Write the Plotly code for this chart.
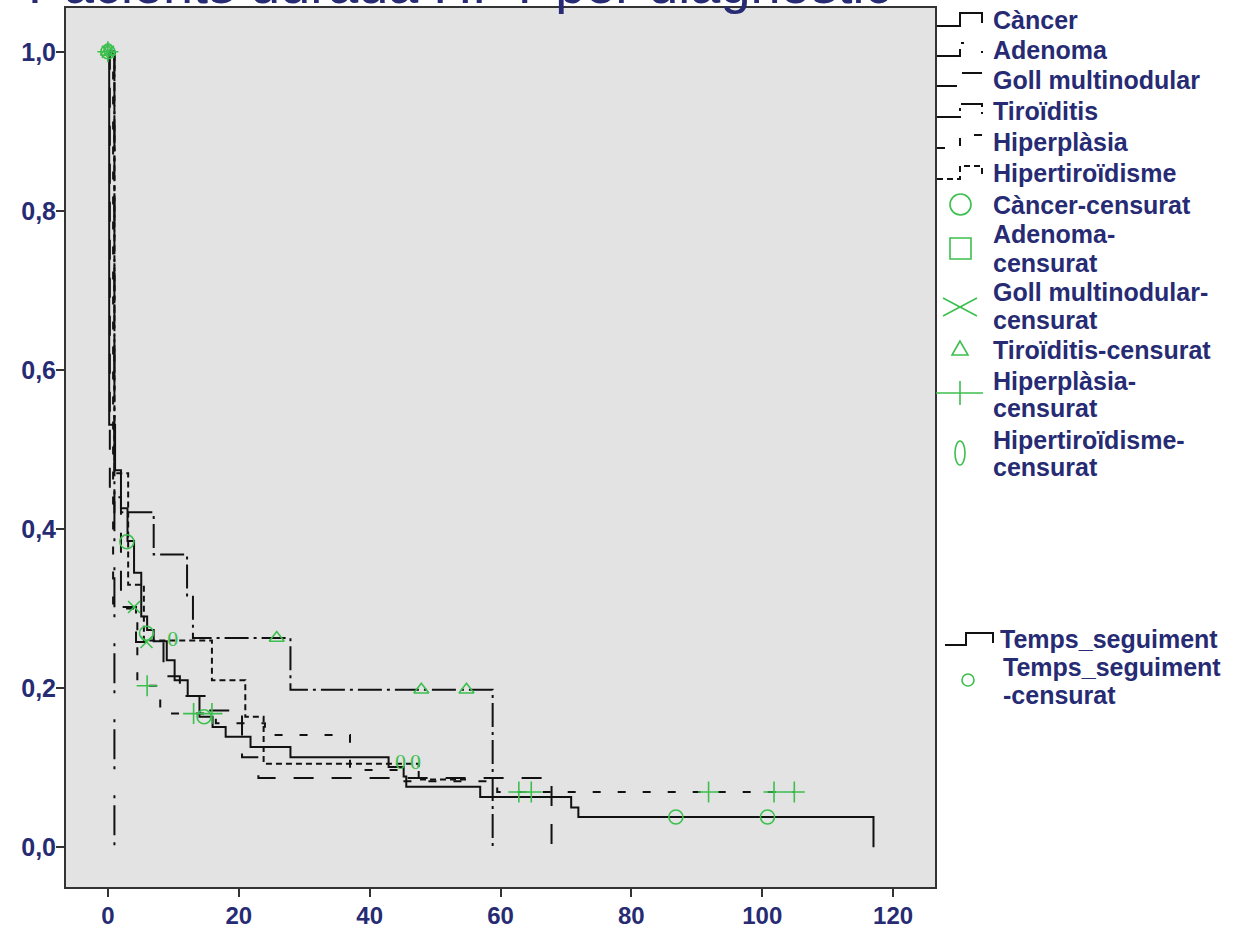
import plotly.graph_objects as go

# ---------------- data: Kaplan-Meier step points (time, cumulative survival) ----------------
groups = ["Càncer", "Adenoma", "Goll multinodular", "Tiroïditis", "Hiperplàsia", "Hipertiroïdisme"]

cancer_t = [0, 0.2, 1.1, 2.0, 3.0, 4.0, 5.1, 6.0, 7.0, 9.0, 10.2, 12.2, 14.0, 16.0, 18.0, 21.8, 27.9,
            42.9, 45.2, 45.6, 56.9, 70.8, 71.9, 117]
cancer_s = [1.0, 0.531, 0.474, 0.426, 0.385, 0.345, 0.29, 0.273, 0.259, 0.235, 0.21, 0.19, 0.164, 0.151,
            0.139, 0.126, 0.113, 0.101, 0.089, 0.076, 0.063, 0.050, 0.038, 0.0]

adenoma_t = [0, 1.0]
adenoma_s = [1.0, 0.0]

goll_t = [0, 0.3, 2.0, 4.3, 8.5, 11.0, 15.0, 20.5, 23.0, 67.8]
goll_s = [1.0, 0.44, 0.302, 0.258, 0.215, 0.19, 0.172, 0.113, 0.087, 0.0]

tiro_t = [0, 1.0, 7.0, 12.1, 13.0, 27.9, 58.8]
tiro_s = [1.0, 0.421, 0.368, 0.315, 0.263, 0.198, 0.0]

hiperpl_t = [0, 0.8, 4.5, 8.0, 16.5, 24.0, 37.0, 45.0, 59.5, 105.0]
hiperpl_s = [1.0, 0.30, 0.203, 0.168, 0.156, 0.141, 0.097, 0.083, 0.0695, 0.0695]

hipert_t = [0, 1.0, 3.1, 5.5, 15.9, 21.0, 23.8, 47.5, 55.0]
hipert_s = [1.0, 0.47, 0.33, 0.26, 0.21, 0.164, 0.105, 0.085, 0.085]

# censored observations per group
cens_cancer_t = [0, 2.9, 5.9, 14.7, 86.8, 100.8]
cens_cancer_s = [1.0, 0.384, 0.269, 0.164, 0.038, 0.038]
cens_goll_t = [0, 4.0, 5.9]
cens_goll_s = [1.0, 0.302, 0.258]
cens_tiro_t = [0, 25.8, 47.9, 54.8]
cens_tiro_s = [1.0, 0.263, 0.198, 0.198]
cens_hiperpl_t = [0, 6.0, 13.1, 15.9, 62.8, 64.7, 91.8, 101.8, 104.9]
cens_hiperpl_s = [1.0, 0.203, 0.168, 0.168, 0.0695, 0.0695, 0.0695, 0.0695, 0.0695]
cens_hipert_t = [0, 9.9, 44.7, 47.0]
cens_hipert_s = [1.0, 0.26, 0.105, 0.105]

x_ticks = [0, 20, 40, 60, 80, 100, 120]
y_ticks = [0.0, 0.2, 0.4, 0.6, 0.8, 1.0]

# ---------------- styling ----------------
NAVY = "#262b73"
GREEN = "#3cbf4e"
BG = "#e3e3e3"
FONT = "Liberation Sans"

dash = {
    "Càncer": "solid",
    "Adenoma": "30px,7px,3px,26px,3px,7px",
    "Goll multinodular": "20px,18px",
    "Tiroïditis": "24px,5px,3px,5px",
    "Hiperplàsia": "8px,17px",
    "Hipertiroïdisme": "6px,4px",
}

curves = {
    "Càncer": (cancer_t, cancer_s),
    "Adenoma": (adenoma_t, adenoma_s),
    "Goll multinodular": (goll_t, goll_s),
    "Tiroïditis": (tiro_t, tiro_s),
    "Hiperplàsia": (hiperpl_t, hiperpl_s),
    "Hipertiroïdisme": (hipert_t, hipert_s),
}

fig = go.Figure()

for g in groups:
    t, s = curves[g]
    fig.add_trace(go.Scatter(
        x=t, y=s, mode="lines", line_shape="hv",
        line=dict(color="#111111", width=2, dash=dash[g]),
        name=g, showlegend=False, hoverinfo="skip"))


def cens_marker(symbol, size):
    return dict(symbol=symbol, size=size, color=GREEN, line=dict(color=GREEN, width=1.6))


fig.add_trace(go.Scatter(x=cens_cancer_t, y=cens_cancer_s, mode="markers",
                         marker=cens_marker("circle-open", 14), showlegend=False))
fig.add_trace(go.Scatter(x=cens_goll_t, y=cens_goll_s, mode="markers",
                         marker=cens_marker("x-thin-open", 12), showlegend=False))
fig.add_trace(go.Scatter(x=cens_tiro_t, y=cens_tiro_s, mode="markers",
                         marker=cens_marker("triangle-up-open", 13), showlegend=False))
fig.add_trace(go.Scatter(x=cens_hiperpl_t, y=cens_hiperpl_s, mode="markers",
                         marker=cens_marker("cross-thin-open", 15), showlegend=False))
fig.add_trace(go.Scatter(x=cens_hipert_t, y=cens_hipert_s, mode="text", text=["0"] * len(cens_hipert_t),
                         textfont=dict(family="Liberation Sans Narrow", size=22, color=GREEN),
                         textposition="middle center", showlegend=False))

# ---------------- layout ----------------
W, H = 1234, 930
L, R, T, B = 66, 935, 8, 887


def px(x):
    return (x - L) / (R - L)


def py(y):
    return (B - y) / (B - T)


shapes = []
annotations = []

# title and legend heading (partly above the page edge)
annotations.append(dict(text="Pacients durada HPT per diagnòstic", x=px(460), y=py(16), xref="paper", yref="paper",
                        xanchor="center", yanchor="bottom", showarrow=False,
                        font=dict(family=FONT, size=54, color=NAVY)))
annotations.append(dict(text="Diagnòstic", x=px(968), y=py(2), xref="paper", yref="paper",
                        xanchor="left", yanchor="bottom", showarrow=False,
                        font=dict(family=FONT, size=22, color="#111111", weight="bold")))

legend_font = dict(family=FONT, size=25, color=NAVY, weight="bold")


def label(lines, x, ys):
    for txt, yy in zip(lines, ys):
        annotations.append(dict(text=txt, x=px(x), y=py(yy), xref="paper", yref="paper",
                                xanchor="left", yanchor="middle", showarrow=False, font=legend_font))


def step_glyph(yc, dsh):
    pts = [(937, yc + 6), (960, yc + 6), (960, yc - 7), (982, yc - 7), (982, yc + 3)]
    path = "M " + " L ".join(f"{px(a)},{py(b)}" for a, b in pts)
    shapes.append(dict(type="path", path=path, xref="paper", yref="paper",
                       line=dict(color="#111111", width=2, dash=dsh)))


line_rows = [20, 50, 80, 111, 142, 173]
for g, yc in zip(groups, line_rows):
    step_glyph(yc, dash[g])
    label([g], 991, [yc])

# censored legend entries
gl = dict(color=GREEN, width=1.6)
# circle
shapes.append(dict(type="circle", xref="paper", yref="paper", x0=px(950), x1=px(971), y0=py(215), y1=py(194), line=gl))
label(["Càncer-censurat"], 991, [205])
# square
shapes.append(dict(type="rect", xref="paper", yref="paper", x0=px(950), x1=px(971), y0=py(259), y1=py(238), line=gl))
label(["Adenoma-", "censurat"], 991, [234, 263])
# x
shapes.append(dict(type="line", xref="paper", yref="paper", x0=px(943), x1=px(977), y0=py(298), y1=py(316), line=gl))
shapes.append(dict(type="line", xref="paper", yref="paper", x0=px(943), x1=px(977), y0=py(316), y1=py(298), line=gl))
label(["Goll multinodular-", "censurat"], 991, [292, 320])
# triangle
tri = [(960, 341), (952, 355), (968, 355)]
shapes.append(dict(type="path", xref="paper", yref="paper",
                   path="M " + " L ".join(f"{px(a)},{py(b)}" for a, b in tri) + " Z", line=gl))
label(["Tiroïditis-censurat"], 991, [350])
# plus
shapes.append(dict(type="line", xref="paper", yref="paper", x0=px(936), x1=px(983), y0=py(393), y1=py(393), line=gl))
shapes.append(dict(type="line", xref="paper", yref="paper", x0=px(960), x1=px(960), y0=py(381), y1=py(405), line=gl))
label(["Hiperplàsia-", "censurat"], 991, [381, 408])
# ellipse "0"
shapes.append(dict(type="circle", xref="paper", yref="paper", x0=px(955), x1=px(965), y0=py(465), y1=py(441), line=gl))
label(["Hipertiroïdisme-", "censurat"], 991, [440, 467])

# follow-up time entries
tp = [(945, 645), (966, 645), (966, 633), (993, 633), (993, 643)]
shapes.append(dict(type="path", xref="paper", yref="paper",
                   path="M " + " L ".join(f"{px(a)},{py(b)}" for a, b in tp), line=dict(color="#111111", width=2)))
label(["Temps_seguiment"], 998, [639])
shapes.append(dict(type="circle", xref="paper", yref="paper", x0=px(962), x1=px(974), y0=py(686), y1=py(674), line=gl))
label(["Temps_seguiment", "-censurat"], 1001, [667, 695])

tick_font = dict(family=FONT, size=24, color=NAVY, weight="bold")

fig.update_layout(
    width=W, height=H,
    margin=dict(l=L, r=W - R, t=T, b=H - B, autoexpand=False),
    paper_bgcolor="white", plot_bgcolor=BG,
    separators=",.",
    showlegend=False,
    shapes=shapes, annotations=annotations,
    xaxis=dict(range=[-6.4, 126.4], tickvals=x_ticks, ticks="outside", ticklen=8, tickwidth=2,
               tickcolor="#333333", showline=True, linewidth=2, linecolor="#333333", mirror=True,
               showgrid=False, zeroline=False, tickfont=tick_font, automargin=False,
               ticklabelstandoff=-2),
    yaxis=dict(range=[-0.05, 1.055], tickvals=y_ticks, tickformat=".1f", ticks="outside", ticklen=8,
               tickwidth=2, tickcolor="#333333", showline=True, linewidth=2, linecolor="#333333",
               mirror=True, showgrid=False, zeroline=False, tickfont=dict(tick_font, size=25),
               automargin=False, ticklabelstandoff=-5),
)

fig.write_html("out.html")
